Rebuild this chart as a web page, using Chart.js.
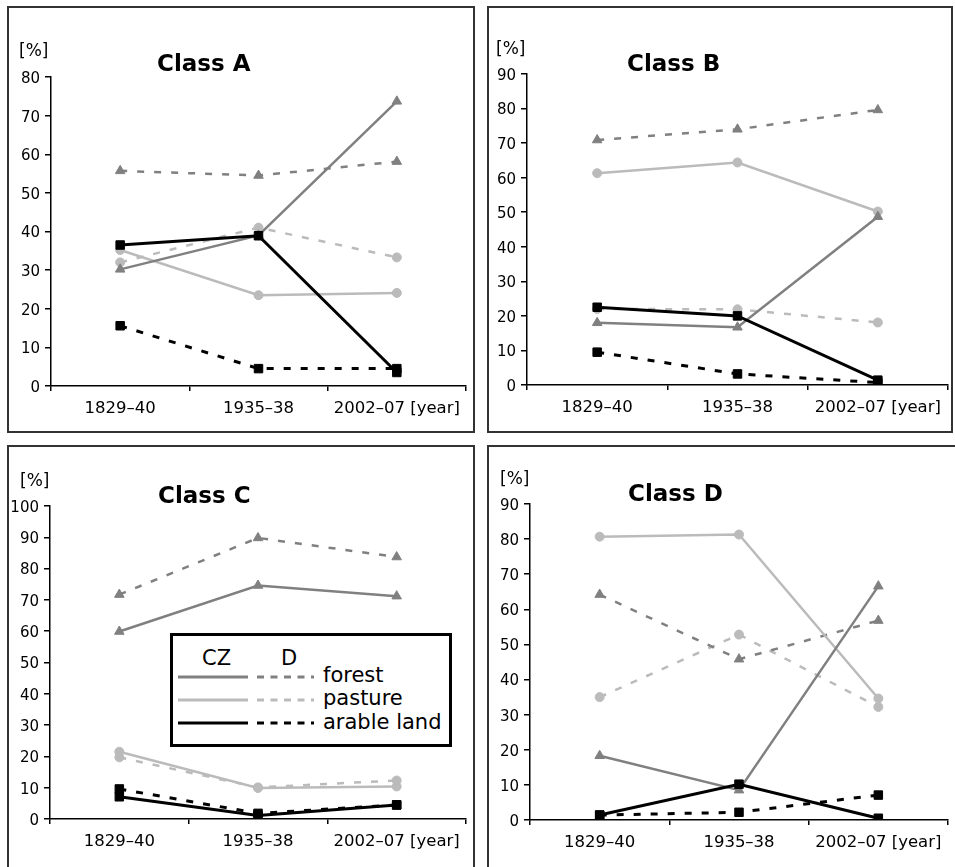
<!DOCTYPE html>
<html>
<head>
<meta charset="utf-8">
<script src="https://cdn.jsdelivr.net/npm/chart.js@4"></script>
<style>
  html, body { margin: 0; padding: 0; background: #fff; }
  body { width: 955px; height: 867px; position: relative; overflow: hidden; font-family: "DejaVu Sans", sans-serif; }
  .frame { position: absolute; border: 2px solid #333; box-sizing: border-box; }
  canvas { position: absolute; }
  .lbl { position: absolute; white-space: nowrap; color: #000; }
  .title { font-size: 23px; font-weight: bold; line-height: 23px; }
  .unit { font-size: 17px; line-height: 17px; }
  .leg { font-size: 21px; line-height: 21px; }
  #legendBox { position: absolute; left: 170px; top: 633px; width: 282px; height: 114px; border: 3px solid #000; box-sizing: border-box; background: #fff; }
  #legendSvg { position: absolute; left: 0; top: 0; }
</style>
</head>
<body>
<div class="frame" style="left:7px;top:6px;width:468px;height:427px;"></div>
<div class="frame" style="left:487px;top:6px;width:466px;height:427px;"></div>
<div class="frame" style="left:7px;top:445px;width:468px;height:430px;"></div>
<div class="frame" style="left:487px;top:445px;width:475px;height:430px;"></div>

<canvas id="cA" width="478" height="438" style="left:0px;top:0px;"></canvas>
<canvas id="cB" width="477" height="438" style="left:478px;top:0px;"></canvas>
<canvas id="cC" width="478" height="429" style="left:0px;top:438px;"></canvas>
<canvas id="cD" width="477" height="429" style="left:478px;top:438px;"></canvas>

<div class="lbl unit" style="left:19px;top:42px;">[%]</div>
<div class="lbl unit" style="left:496px;top:40px;">[%]</div>
<div class="lbl unit" style="left:20px;top:472px;">[%]</div>
<div class="lbl unit" style="left:500px;top:470px;">[%]</div>

<div class="lbl title" style="left:157px;top:52px;">Class A</div>
<div class="lbl title" style="left:627px;top:52px;">Class B</div>
<div class="lbl title" style="left:158px;top:484px;">Class C</div>
<div class="lbl title" style="left:628px;top:482px;">Class D</div>

<div id="legendBox"></div>
<svg id="legendSvg" width="955" height="867">
  <line x1="178" y1="677" x2="248" y2="677" stroke="#808080" stroke-width="3"/>
  <line x1="257" y1="677" x2="314" y2="677" stroke="#808080" stroke-width="3" stroke-dasharray="7,6.5"/>
  <line x1="178" y1="700" x2="248" y2="700" stroke="#bbbbbb" stroke-width="3"/>
  <line x1="257" y1="700" x2="314" y2="700" stroke="#bbbbbb" stroke-width="3" stroke-dasharray="7,6.5"/>
  <line x1="178" y1="723" x2="248" y2="723" stroke="#000000" stroke-width="3"/>
  <line x1="257" y1="723" x2="314" y2="723" stroke="#000000" stroke-width="3" stroke-dasharray="7,6.5"/>
</svg>
<div class="lbl leg" style="left:202px;top:648px;">CZ</div>
<div class="lbl leg" style="left:281px;top:648px;">D</div>
<div class="lbl leg" style="left:323px;top:665px;">forest</div>
<div class="lbl leg" style="left:323px;top:688px;">pasture</div>
<div class="lbl leg" style="left:323px;top:712px;">arable land</div>

<script>
// ---- data ----
const categories = ['1829–40', '1935–38', '2002–07'];
const yearSuffix = ' [year]';

const aForestCZ  = [30.2, 39.0, 73.7];
const aForestD   = [55.7, 54.5, 58.1];
const aPastureCZ = [35.2, 23.5, 24.1];
const aPastureD  = [32.0, 41.0, 33.3];
const aArableCZ  = [36.5, 38.9, 3.5];
const aArableD   = [15.6, 4.5, 4.5];

const bForestCZ  = [18.0, 16.7, 48.7];
const bForestD   = [70.9, 74.0, 79.6];
const bPastureCZ = [61.3, 64.4, 50.2];
const bPastureD  = [22.0, 21.9, 18.1];
const bArableCZ  = [22.5, 20.0, 1.4];
const bArableD   = [9.5, 3.2, 0.7];

const cForestCZ  = [59.9, 74.6, 71.2];
const cForestD   = [71.7, 89.8, 83.7];
const cPastureCZ = [21.5, 9.9, 10.4];
const cPastureD  = [19.7, 10.1, 12.3];
const cArableCZ  = [7.1, 1.1, 4.5];
const cArableD   = [9.6, 1.8, 4.5];

const dForestCZ  = [18.3, 8.5, 66.6];
const dForestD   = [64.2, 45.8, 56.8];
const dPastureCZ = [80.7, 81.3, 34.6];
const dPastureD  = [35.0, 52.8, 32.2];
const dArableCZ  = [1.4, 10.2, 0.5];
const dArableD   = [1.4, 2.2, 7.1];

const yMaxA = 80, yMaxB = 90, yMaxC = 100, yMaxD = 90;

// ---- styles ----
const FOREST = '#808080', PASTURE = '#bbbbbb', ARABLE = '#000000';
const DASH = [7, 10];

function ds(label, data, color, dashed, style, radius, width) {
  return {
    label, data,
    borderColor: color, backgroundColor: color,
    borderWidth: width, borderDash: dashed ? DASH : [],
    pointStyle: style, pointRadius: radius, pointHoverRadius: radius,
    pointBackgroundColor: color, pointBorderColor: color, pointBorderWidth: 1,
    tension: 0, fill: false
  };
}

function makeChart(id, rect, axis, yMax, s) {
  return new Chart(document.getElementById(id), {
    type: 'line',
    data: {
      labels: categories,
      datasets: [
        ds('arable land CZ', s.arCZ, ARABLE, false, 'rect', 6, 3),
        ds('arable land D', s.arD, ARABLE, true, 'rect', 6, 3),
        ds('forest CZ', s.foCZ, FOREST, false, 'triangle', 5.5, 2.5),
        ds('pasture CZ', s.paCZ, PASTURE, false, 'circle', 4.5, 2.5),
        ds('forest D', s.foD, FOREST, true, 'triangle', 5.5, 2.5),
        ds('pasture D', s.paD, PASTURE, true, 'circle', 4.5, 2.5)
      ]
    },
    options: {
      responsive: false,
      animation: false,
      events: [],
      layout: { padding: { left: 0, top: axis.t - rect.top, right: rect.left + rect.w - axis.r, bottom: 0 } },
      plugins: { legend: { display: false }, tooltip: { enabled: false }, title: { display: false } },
      scales: {
        x: {
          type: 'category',
          offset: true,
          grid: { offset: true, drawOnChartArea: false, drawTicks: true, tickLength: 5, color: '#000', lineWidth: 1.5 },
          border: { display: true, color: '#000', width: 1.5 },
          ticks: {
            font: { family: 'DejaVu Sans', size: 16.5 }, color: '#000', padding: 8, maxRotation: 0, autoSkip: false,
            callback: (v, i) => i === categories.length - 1 ? categories[i] + yearSuffix : categories[i]
          },
          afterFit: sc => { sc.height = rect.top + rect.h - axis.b; }
        },
        y: {
          min: 0, max: yMax,
          ticks: { stepSize: 10, font: { family: 'DejaVu Sans', size: 15 }, color: '#000', padding: 5, labelOffset: 2 },
          grid: { drawOnChartArea: false, drawTicks: true, tickLength: 6, color: '#000', lineWidth: 1.5 },
          border: { display: true, color: '#000', width: 1.5 },
          afterFit: sc => { sc.width = axis.l - rect.left; }
        }
      }
    }
  });
}

makeChart('cA', { left: 0, top: 0, w: 478, h: 438 }, { l: 51, r: 466, t: 77, b: 386 }, yMaxA,
  { foCZ: aForestCZ, foD: aForestD, paCZ: aPastureCZ, paD: aPastureD, arCZ: aArableCZ, arD: aArableD });
makeChart('cB', { left: 478, top: 0, w: 477, h: 438 }, { l: 527, r: 948, t: 74, b: 385 }, yMaxB,
  { foCZ: bForestCZ, foD: bForestD, paCZ: bPastureCZ, paD: bPastureD, arCZ: bArableCZ, arD: bArableD });
makeChart('cC', { left: 0, top: 438, w: 478, h: 429 }, { l: 50, r: 466, t: 506, b: 819 }, yMaxC,
  { foCZ: cForestCZ, foD: cForestD, paCZ: cPastureCZ, paD: cPastureD, arCZ: cArableCZ, arD: cArableD });
makeChart('cD', { left: 478, top: 438, w: 477, h: 429 }, { l: 530, r: 948, t: 504, b: 820 }, yMaxD,
  { foCZ: dForestCZ, foD: dForestD, paCZ: dPastureCZ, paD: dPastureD, arCZ: dArableCZ, arD: dArableD });
</script>
</body>
</html>
